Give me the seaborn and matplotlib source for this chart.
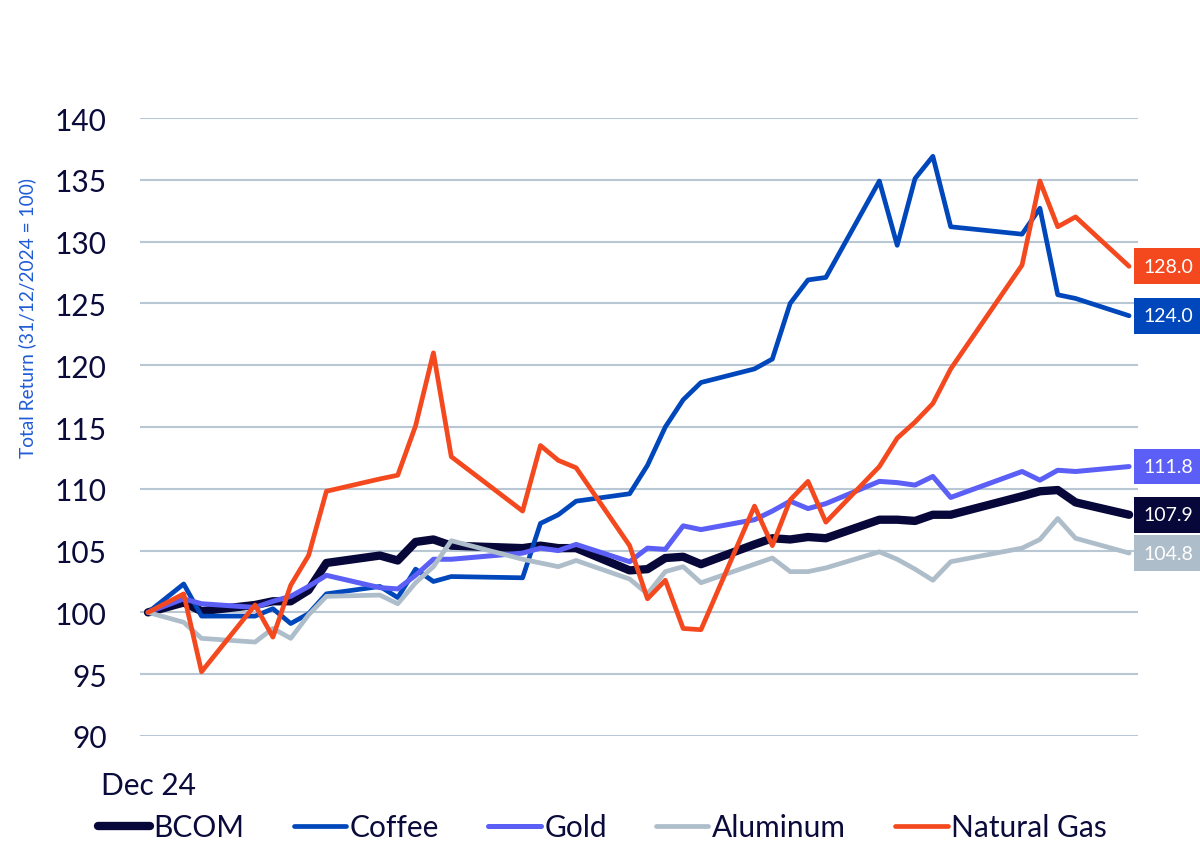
import matplotlib
matplotlib.use("Agg")
import matplotlib.pyplot as plt
import matplotlib.lines as mlines
import pandas as pd
import seaborn as sns

sns.set_style("white")
plt.rcParams['font.family'] = ['Lato', 'DejaVu Sans']

# week index from 31/12/2024 (only weeks that have a data point)
weeks = [0, 2, 3, 6, 7, 8, 9, 10, 13, 14, 15, 16, 17, 21, 22, 23, 24, 27, 28,
         29, 30, 31, 34, 35, 36, 37, 38, 41, 42, 43, 44, 45, 49, 50, 51, 52, 55]

bcom = [100.0, 100.8, 100.1, 100.6, 100.9, 100.9, 101.8, 104.0, 104.6, 104.2,
        105.7, 105.9, 105.4, 105.2, 105.4, 105.2, 105.2, 103.4, 103.5, 104.4,
        104.5, 103.9, 105.5, 106.0, 105.9, 106.1, 106.0, 107.5, 107.5, 107.4,
        107.9, 107.9, 109.4, 109.8, 109.9, 108.9, 107.9]
coffee = [100.0, 102.3, 99.7, 99.7, 100.3, 99.1, 99.9, 101.5, 102.1, 101.2,
          103.5, 102.5, 102.9, 102.8, 107.2, 107.9, 109.0, 109.6, 111.9, 115.0,
          117.2, 118.6, 119.7, 120.5, 125.0, 126.9, 127.1, 134.9, 129.7, 135.1,
          136.9, 131.2, 130.6, 132.7, 125.7, 125.4, 124.0]
gold = [100.0, 101.1, 100.7, 100.4, 100.9, 101.3, 102.1, 103.0, 102.0, 101.9,
        103.0, 104.3, 104.3, 104.8, 105.2, 105.0, 105.5, 104.1, 105.2, 105.1,
        107.0, 106.7, 107.5, 108.2, 109.0, 108.4, 108.8, 110.6, 110.5, 110.3,
        111.0, 109.3, 111.4, 110.7, 111.5, 111.4, 111.8]
aluminum = [100.0, 99.2, 97.9, 97.6, 98.7, 97.9, 99.8, 101.3, 101.4, 100.7,
            102.4, 103.7, 105.8, 104.3, 104.0, 103.7, 104.2, 102.7, 101.5, 103.3,
            103.7, 102.4, 103.9, 104.4, 103.3, 103.3, 103.6, 104.9, 104.3, 103.5,
            102.6, 104.1, 105.2, 105.9, 107.6, 106.0, 104.8]
natural_gas = [100.0, 101.5, 95.2, 100.6, 98.0, 102.2, 104.6, 109.8, 110.8, 111.1,
               115.1, 121.0, 112.6, 108.2, 113.5, 112.3, 111.7, 105.4, 101.1, 102.6,
               98.7, 98.6, 108.6, 105.4, 109.1, 110.6, 107.3, 111.8, 114.1, 115.4,
               116.9, 119.7, 128.1, 134.9, 131.2, 132.0, 128.0]

names = ["BCOM", "Coffee", "Gold", "Aluminum", "Natural Gas"]
colors = ["#07073A", "#0047BB", "#5B5FF5", "#AEBDCA", "#F4491F"]
widths = [6.0, 3.4, 3.6, 3.4, 3.4]
yticks = [90, 95, 100, 105, 110, 115, 120, 125, 130, 135, 140]

df = pd.DataFrame({"week": weeks, "BCOM": bcom, "Coffee": coffee, "Gold": gold,
                   "Aluminum": aluminum, "Natural Gas": natural_gas})

fig = plt.figure(figsize=(12, 8.53), dpi=100)
ax = fig.add_axes([140 / 1200, 1 - 737 / 853, 998 / 1200, 618 / 853])

handles = []
for i, (name, col, lw) in enumerate(zip(names, colors, widths)):
    sns.lineplot(data=df, x="week", y=name, color=col, linewidth=lw, ax=ax,
                 zorder=3 + i, solid_capstyle="round", solid_joinstyle="round")
    handles.append(mlines.Line2D([], [], color=col, linewidth=lw,
                                 solid_capstyle="round", label=name))
    last = df[name].iloc[-1]
    ax.text(1.0055, last, f"{last:.1f}", transform=ax.get_yaxis_transform(),
            ha="left", va="center", color="white", fontsize=14,
            bbox=dict(boxstyle="square,pad=0.48", fc=col, ec="none"),
            clip_on=False)

ax.set_xlim(-0.45, 55.5)
ax.set_ylim(90, 140)
ax.set_yticks(yticks)
ax.yaxis.grid(True, color="#B9C7D5", linewidth=1.5)
ax.set_axisbelow(True)
ax.set_xticks([0])
ax.set_xticklabels(["Dec 24"])
ax.tick_params(axis="y", length=0, pad=24, labelsize=21.5, labelcolor="#0B0B3B")
ax.tick_params(axis="x", length=0, pad=25, labelsize=21.5, labelcolor="#0B0B3B")
ax.set_xlabel("")
ax.set_ylabel("")
for s in ax.spines.values():
    s.set_visible(False)

fig.text(27 / 1200, 1 - 318 / 853, "Total Return (31/12/2024 = 100)",
         rotation=90, ha="center", va="center", color="#1F5CD6", fontsize=13.8)

fig.legend(handles=handles, loc="center", bbox_to_anchor=(0.502, 1 - 828 / 853),
           ncol=5, frameon=False, fontsize=21.5, handlelength=1.75,
           handletextpad=0.12, columnspacing=1.65, labelcolor="#0B0B3B")

fig.savefig("out.png", dpi=100)
